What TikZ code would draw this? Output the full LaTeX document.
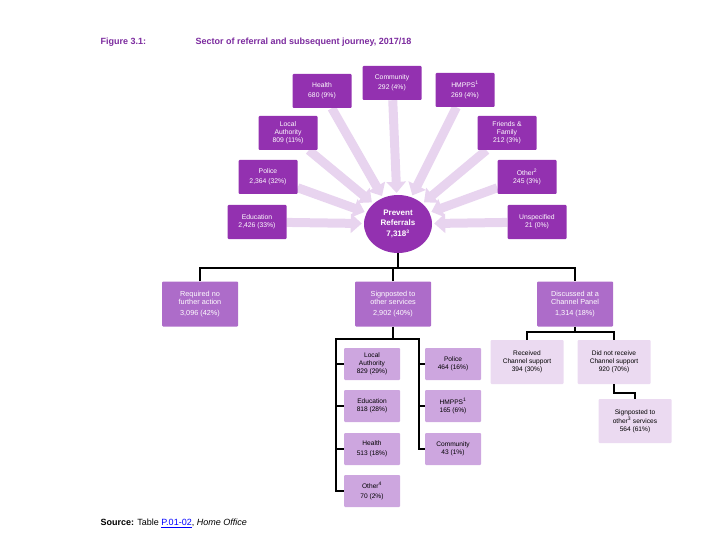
\documentclass[tikz,border=0pt]{standalone}
\usepackage{fontspec}
\setmainfont{Liberation Sans}
\usetikzlibrary{arrows.meta,shapes.geometric,backgrounds}
\definecolor{dpurp}{HTML}{9331B0}
\definecolor{mpurp}{HTML}{AD6CC9}
\definecolor{lpurp}{HTML}{CDA6DF}
\definecolor{vlpurp}{HTML}{EBDAF1}
\definecolor{arr}{HTML}{E8D4EF}
\definecolor{titlec}{HTML}{7B2A9E}
\begin{document}
\begin{tikzpicture}[x=1pt,y=-1pt,
 top/.style={fill=dpurp,text=white,minimum width=59pt,minimum height=34pt,align=center,font=\fontsize{6.8}{8}\selectfont,inner sep=1pt,rounded corners=1pt},
 mid/.style={fill=mpurp,text=white,minimum width=76pt,minimum height=45pt,align=center,font=\fontsize{7.3}{8.8}\selectfont,inner sep=1pt,rounded corners=1pt},
 sub/.style={fill=lpurp,text=black,minimum width=56pt,minimum height=32pt,align=center,font=\fontsize{6.6}{7.8}\selectfont,inner sep=1pt,rounded corners=1pt},
 ch/.style={fill=vlpurp,text=black,minimum width=73pt,minimum height=44pt,align=center,font=\fontsize{6.6}{7.8}\selectfont,inner sep=1pt,rounded corners=1pt},
 bigarr/.style={draw=arr,line width=9pt,-{Triangle[width=19pt,length=11pt]}},
 conn/.style={draw=black,line width=1.3pt}]
\useasboundingbox (0,0) rectangle (720,540);
\node[anchor=west,text=titlec,font=\bfseries\fontsize{9}{11}\selectfont] (t1) at (97,42) {Figure 3.1:};
\node[anchor=west,text=titlec,font=\bfseries\fontsize{9}{11}\selectfont] (t2) at (192,42) {Sector of referral and subsequent journey, 2017/18};
\node[anchor=west,font=\fontsize{9}{11}\selectfont] (src) at (97,523) {\textbf{Source:} Table \textcolor{blue}{\underline{P.01-02}}, \textit{Home Office}};

\node[ellipse,fill=dpurp,minimum width=68pt,minimum height=58pt,text=white,align=center,font=\bfseries\fontsize{8}{9.5}\selectfont,inner sep=0pt] (c) at (398,224) {Prevent\\Referrals\\[2pt]7,318\textsuperscript{\tiny 3}};
\node[top] (hea) at (322,91) {Health\\[2pt]680 (9\%)};
\node[top] (com) at (392,83) {Community\\[2pt]292 (4\%)};
\node[top] (hmp) at (465,90) {HMPPS\textsuperscript{\tiny 1}\\[2pt]269 (4\%)};
\node[top] (la) at (288,133) {Local\\Authority\\809 (11\%)};
\node[top] (ff) at (507,133) {Friends \&\\Family\\212 (3\%)};
\node[top] (pol) at (268,177) {Police\\[2pt]2,364 (32\%)};
\node[top] (oth) at (527,177) {Other\textsuperscript{\tiny 2}\\245 (3\%)};
\node[top] (edu) at (257,222) {Education\\2,426 (33\%)};
\node[top] (uns) at (537,222) {Unspecified\\21 (0\%)};
\begin{scope}[on background layer]
\foreach \n in {hea,com,hmp,la,ff,pol,oth,edu,uns}
  \path[bigarr,shorten >=2pt] (\n) -- (c);
\end{scope}

\node[mid] (req) at (200,304) {Required no\\further action\\[2pt]3,096 (42\%)};
\node[mid] (sig) at (393,304) {Signposted to\\other services\\[2pt]2,902 (40\%)};
\node[mid] (dis) at (575,304) {Discussed at a\\Channel Panel\\[2pt]1,314 (18\%)};
\draw[conn] (c.south) -- (398,268);
\draw[conn] (req.north) -- (200,268) -- (575,268) -- (dis.north);
\draw[conn] (sig.north) -- (393,268);

\node[sub] (sla) at (372,364) {Local\\Authority\\829 (29\%)};
\node[sub] (sed) at (372,406) {Education\\818 (28\%)};
\node[sub] (she) at (372,449) {Health\\[2pt]513 (18\%)};
\node[sub] (sot) at (372,491) {Other\textsuperscript{\tiny 4}\\[2pt]70 (2\%)};
\node[sub] (spo) at (453,364) {Police\\464 (16\%)};
\node[sub] (shm) at (453,406) {HMPPS\textsuperscript{\tiny 1}\\165 (6\%)};
\node[sub] (sco) at (453,449) {Community\\43 (1\%)};
\draw[conn] (sig.south) -- (393,339);
\draw[conn] (sot.west) -- (336,491) -- (336,339) -- (419,339) -- (419,449) -- (sco.west);
\draw[conn] (sla.west) -- (336,364);
\draw[conn] (sed.west) -- (336,406);
\draw[conn] (she.west) -- (336,449);
\draw[conn] (spo.west) -- (419,364);
\draw[conn] (shm.west) -- (419,406);

\node[ch] (rec) at (527,362) {Received\\Channel support\\394 (30\%)};
\node[ch] (dnr) at (614,362) {Did not receive\\Channel support\\920 (70\%)};
\node[ch] (so) at (635,421) {Signposted to\\other\textsuperscript{\tiny 3} services\\564 (61\%)};
\draw[conn] (dis.south) -- (575,332);
\draw[conn] (rec.north) -- (527,332) -- (614,332) -- (dnr.north);
\draw[conn] (dnr.south) -- (614,393) -- (635,393) -- (so.north);
\end{tikzpicture}
\end{document}
